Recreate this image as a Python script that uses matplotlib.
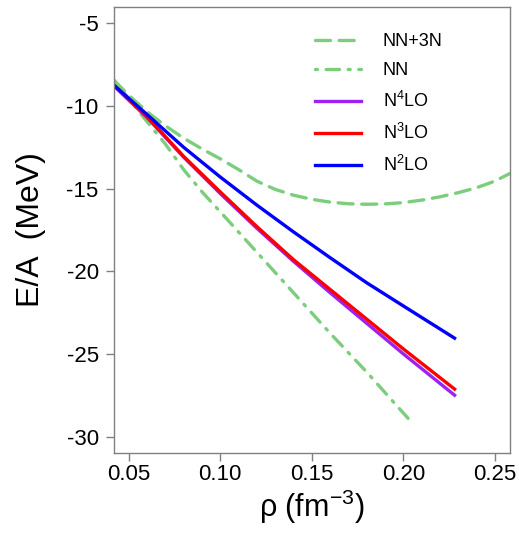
import numpy as np
import matplotlib
matplotlib.use("Agg")
import matplotlib.pyplot as plt

# ─── Style ───────────────────────────────────────────────────────────────────
plt.rcParams.update({
    "font.family"        : "Liberation Sans",
    "mathtext.fontset"   : "custom",
    "mathtext.rm"        : "Liberation Sans",
    "mathtext.it"        : "Liberation Sans:italic",
    "axes.unicode_minus" : False,
})

GREEN  = "#7CCD7C"
PURPLE = "#A020F0"
RED    = "#FF0000"
BLUE   = "#0000FF"
GREY   = "#808080"

# ─── Données ─────────────────────────────────────────────────────────────────
rho_nn3n = [0.042, 0.05, 0.06, 0.07, 0.08, 0.09, 0.10, 0.11, 0.12, 0.13,
            0.14, 0.15, 0.16, 0.17, 0.18, 0.19, 0.20, 0.21, 0.22, 0.23,
            0.24, 0.25, 0.258]
e_nn3n   = [-8.45, -9.35, -10.35, -11.2, -11.95, -12.6, -13.2, -13.85, -14.55,
            -15.05, -15.4, -15.65, -15.82, -15.92, -15.95, -15.93, -15.85,
            -15.7, -15.5, -15.25, -14.95, -14.55, -14.1]

rho_nn   = [0.042, 0.05, 0.06, 0.07, 0.08, 0.0907, 0.10, 0.12, 0.14, 0.16,
            0.18, 0.2026]
e_nn     = [-8.45, -9.55, -10.95, -12.3, -13.85, -15.28, -16.4, -18.85,
            -21.3, -23.75, -26.1, -28.9]

rho_chi  = [0.042, 0.05, 0.06, 0.08, 0.10, 0.12, 0.14, 0.16, 0.18, 0.20, 0.228]
e_n4lo   = [-8.8, -9.65, -10.7, -13.1, -15.3, -17.4, -19.4, -21.3, -23.15,
            -25.0, -27.5]
e_n3lo   = [-8.75, -9.6, -10.65, -13.05, -15.2, -17.3, -19.3, -21.1, -22.9,
            -24.7, -27.13]
e_n2lo   = [-8.75, -9.54, -10.52, -12.5, -14.3, -16.0, -17.62, -19.18, -20.7,
            -22.1, -24.05]

xticks = [0.05, 0.10, 0.15, 0.20, 0.25]
yticks = [-5, -10, -15, -20, -25, -30]

# ─── Figure ──────────────────────────────────────────────────────────────────
fig = plt.figure(figsize=(5.19, 5.33), dpi=100)
ax = fig.add_axes([0.2197, 0.150, 0.762, 0.8374])

lw = 2.4
ax.plot(rho_nn3n, e_nn3n, color=GREEN, lw=lw, dashes=(4.5, 2.6),
        dash_capstyle="round", label="NN+3N")
ax.plot(rho_nn, e_nn, color=GREEN, lw=lw, dashes=(0.6, 2.6, 4.0, 2.6),
        dash_capstyle="round", label="NN")
ax.plot(rho_chi, e_n4lo, color=PURPLE, lw=lw, label=r"N$^4$LO")
ax.plot(rho_chi, e_n3lo, color=RED, lw=lw, label=r"N$^3$LO")
ax.plot(rho_chi, e_n2lo, color=BLUE, lw=lw, label=r"N$^2$LO")

ax.set_xlim(0.042, 0.258)
ax.set_ylim(-31, -4)
ax.set_xticks(xticks)
ax.set_xticklabels([f"{v:.2f}" for v in xticks])
ax.set_yticks(yticks)
ax.set_yticklabels([str(v) for v in yticks])

for s in ax.spines.values():
    s.set_color(GREY)
    s.set_linewidth(1.0)
ax.tick_params(axis="both", direction="out", length=6, width=1.0,
               color=GREY, labelsize=16)
ax.tick_params(axis="x", pad=2)
ax.tick_params(axis="y", pad=5)

ax.set_xlabel(r"ρ (fm$^{-3}$)", fontsize=22, labelpad=2)
ax.set_ylabel("E/A  (MeV)", fontsize=23, labelpad=15)

ax.legend(loc="upper left", bbox_to_anchor=(0.508, 0.940), frameon=False,
          borderpad=0, borderaxespad=0,
          fontsize=13, handlelength=2.55, handletextpad=1.2, labelspacing=0.66)

fig.savefig("out.png", dpi=100)
